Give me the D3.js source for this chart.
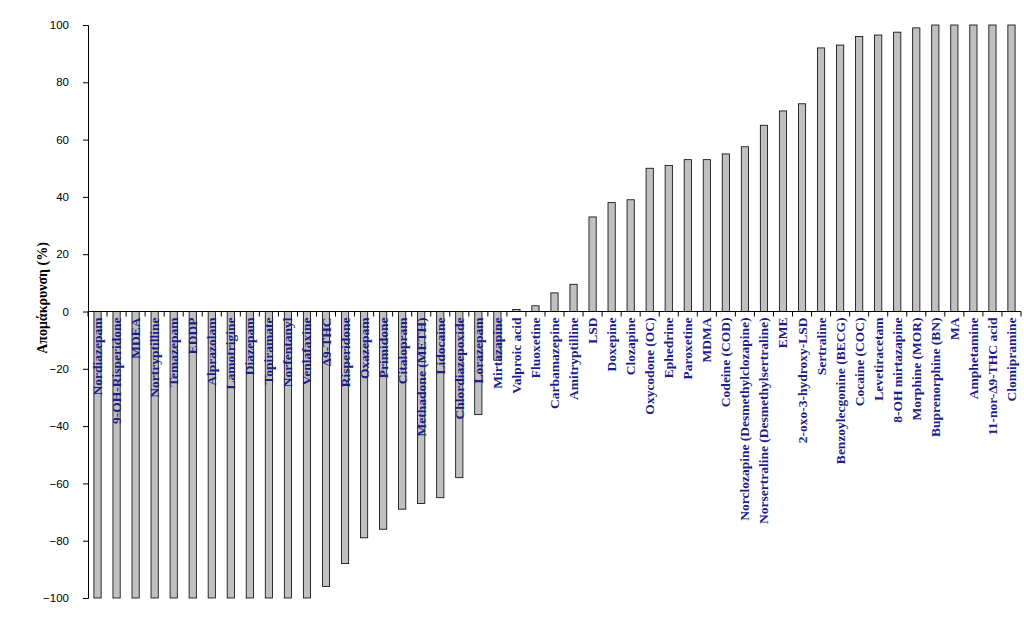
<!DOCTYPE html>
<html><head><meta charset="utf-8">
<script src="https://cdn.jsdelivr.net/npm/d3@7"></script>
<style>body{margin:0;background:#fff}</style></head>
<body><svg id="c" width="1024" height="643"></svg>
<script>
const categories = ["Nordiazepam","9-OH-Risperidone","MDEA","Nortryptilline","Temazepam","EDDP","Alprazolam","Lamotrigine","Diazepam","Topiramate","Norfentanyl","Venlafaxine","Δ9-THC","Risperidone","Oxazepam","Primidone","Citalopram","Methadone (METH)","Lidocaine","Chlordiazepoxide","Lorazepam","Mirtazapine","Valproic acid","Fluoxetine","Carbamazepine","Amitryptilline","LSD","Doxepine","Clozapine","Oxycodone (OC)","Ephedrine","Paroxetine","MDMA","Codeine (COD)","Norclozapine (Desmethylclozapine)","Norsertraline (Desmethylsertraline)","EME","2-oxo-3-hydroxy-LSD","Sertraline","Benzoylecgonine (BECG)","Cocaine (COC)","Levetiracetam","8-OH mirtazapine","Morphine (MOR)","Buprenorphine (BN)","MA","Amphetamine","11-nor-Δ9-THC acid","Clomipramine"];
const removal = [-100,-100,-100,-100,-100,-100,-100,-100,-100,-100,-100,-100,-96,-88,-79,-76,-69,-67,-65,-58,-36,-17,0.7,2,6.5,9.5,33,38,39,50,51,53,53,55,57.5,65,70,72.5,92,93,96,96.5,97.5,99,100,100,100,100,100];
const yTicks = [-100,-80,-60,-40,-20,0,20,40,60,80,100];

const svg = d3.select("#c");
const x = d3.scaleBand().domain(categories).range([88, 1021]).paddingInner(0.62).paddingOuter(0.31);
const y = d3.scaleLinear().domain([-100, 100]).range([598, 25]);

svg.append("g").attr("transform", "translate(88,0)")
  .call(d3.axisLeft(y).tickValues(yTicks).tickSize(5).tickPadding(14))
  .call(g => g.select(".domain").attr("stroke", "#000"))
  .call(g => g.selectAll("text").attr("font-family", "Arial, Liberation Sans").attr("font-size", 11.5).attr("fill", "#000"));

svg.selectAll("rect.bar").data(removal).join("rect")
  .attr("x", (d, i) => x(categories[i]))
  .attr("width", x.bandwidth())
  .attr("y", d => y(Math.max(0, d)))
  .attr("height", d => Math.abs(y(d) - y(0)))
  .attr("fill", "#c0c0c0").attr("stroke", "#000").attr("stroke-width", 0.8);

// zero line with category ticks
const step = x.step();
svg.append("line").attr("x1", 88).attr("x2", 1021).attr("y1", y(0)).attr("y2", y(0)).attr("stroke", "#000");
svg.selectAll("line.ct").data(d3.range(categories.length + 1)).join("line")
  .attr("x1", i => 88 + i * step).attr("x2", i => 88 + i * step)
  .attr("y1", y(0)).attr("y2", y(0) + 5).attr("stroke", "#000");

svg.selectAll("text.lbl").data(categories).join("text")
  .attr("transform", d => `translate(${x(d) + x.bandwidth() / 2 + 4.5},${y(0) + 6}) rotate(-90)`)
  .attr("text-anchor", "end")
  .attr("font-family", "Liberation Serif, Times New Roman, serif")
  .attr("font-weight", "bold").attr("font-size", 13.5).attr("fill", "#1c1c8a")
  .text(d => d);

svg.append("text").attr("transform", "translate(47,298) rotate(-90)")
  .attr("text-anchor", "middle")
  .attr("font-family", "Liberation Serif, Times New Roman, serif")
  .attr("font-weight", "bold").attr("font-size", 14)
  .text("Απομάκρυνση (%)");
</script></body></html>
